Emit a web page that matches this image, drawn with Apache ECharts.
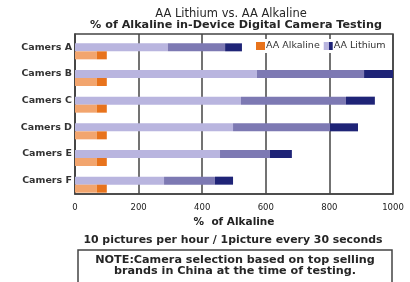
<!DOCTYPE html>
<html>
<head>
<meta charset="utf-8">
<script src="https://cdn.jsdelivr.net/npm/echarts@6/dist/echarts.min.js"></script>
<style>
  html, body { margin: 0; padding: 0; background: #fff; }
  #chart { width: 410px; height: 282px; }
</style>
</head>
<body>
<div id="chart"></div>
<script>
// data
var cameras = ['Camers A', 'Camers B', 'Camers C', 'Camers D', 'Camers E', 'Camers F'];
var lithiumLight = [292, 572, 522, 497, 456, 280];
var lithiumMid = [180, 337, 330, 305, 157, 160];
var lithiumDark = [53, 91, 91, 88, 69, 57];
var alkalineLight = [68, 68, 68, 68, 68, 68];
var alkalineDark = [32, 32, 32, 32, 32, 32];
var xTicks = [0, 200, 400, 600, 800, 1000];

var font = 'DejaVu Sans';
var liLight = '#b9b5df', liMid = '#7d79b3', liDark = '#1f2477';
var alLight = '#f2a56e', alDark = '#e8731c';

var chart = echarts.init(document.getElementById('chart'));

function bar(name, stack, data, color) {
    return {
        name: name,
        type: 'bar',
        stack: stack,
        data: data,
        barWidth: 8,
        barGap: '0%',
        itemStyle: { color: color },
        emphasis: { disabled: true }
    };
}

function txt(text, x, y, size, weight, lh) {
    return {
        text: text,
        left: x, top: y, textAlign: 'center', padding: 0,
        textStyle: { fontSize: size, fontWeight: weight, color: '#262626', fontFamily: font, lineHeight: lh }
    };
}

var option = {
    animation: false,
    textStyle: { fontFamily: font },
    title: [
        txt('AA Lithium vs. AA Alkaline', 231, 8, 11.5, 'normal'),
        txt('% of Alkaline in-Device Digital Camera Testing', 236, 20, 11.2, 'bold'),
        txt('10 pictures per hour / 1picture every 30 seconds', 233, 235, 10.9, 'bold'),
        txt('NOTE:Camera selection based on top selling\nbrands in China at the time of testing.', 235, 255, 11.2, 'bold', 11)
    ],
    graphic: [{
        type: 'rect',
        shape: { x: 78, y: 250, width: 314, height: 40 },
        style: { fill: 'none', stroke: '#444', lineWidth: 1.5 }
    }],
    legend: {
        left: 253, top: 39,
        backgroundColor: '#fff',
        padding: [2, 3],
        itemWidth: 9, itemHeight: 8, itemGap: 4,
        icon: 'rect',
        textStyle: { fontSize: 9.5, color: '#333', fontFamily: font, padding: [0, 0, 0, -4] },
        data: [
            { name: 'AA Alkaline', itemStyle: { color: alDark } },
            { name: 'AA Lithium', itemStyle: { color: new echarts.graphic.LinearGradient(0, 0, 1, 0, [
                { offset: 0, color: liLight }, { offset: 0.55, color: liLight },
                { offset: 0.55, color: liDark }, { offset: 1, color: liDark }]) } }
        ]
    },
    grid: {
        left: 75, right: 17, top: 34, bottom: 88,
        show: true, borderColor: '#444', borderWidth: 1.5
    },
    xAxis: {
        type: 'value',
        min: xTicks[0], max: xTicks[xTicks.length - 1], interval: 200,
        name: '%  of Alkaline',
        nameLocation: 'middle', nameGap: 21,
        nameTextStyle: { fontSize: 10.5, fontWeight: 'bold', color: '#222', fontFamily: font },
        axisLine: { show: true, lineStyle: { color: '#444', width: 1.5 } },
        axisTick: { show: false },
        axisLabel: { fontSize: 8.5, color: '#222', margin: 9, fontFamily: font, formatter: function (v) { return String(v); } },
        splitLine: { show: true, lineStyle: { color: '#444', width: 1.5 } }
    },
    yAxis: {
        type: 'category',
        data: cameras,
        inverse: true,
        axisLine: { show: true, lineStyle: { color: '#444', width: 1.5 } },
        axisTick: { show: false },
        axisLabel: { fontSize: 9.5, fontWeight: 'bold', color: '#333', margin: 3, fontFamily: font }
    },
    series: [
        bar('pad', 'pad', [], 'rgba(0,0,0,0)'),
        bar('AA Lithium', 'li', lithiumLight, liLight),
        bar('AA Lithium', 'li', lithiumMid, liMid),
        bar('AA Lithium', 'li', lithiumDark, liDark),
        bar('AA Alkaline', 'al', alkalineLight, alLight),
        bar('AA Alkaline', 'al', alkalineDark, alDark)
    ]
};

chart.setOption(option);
</script>
</body>
</html>
